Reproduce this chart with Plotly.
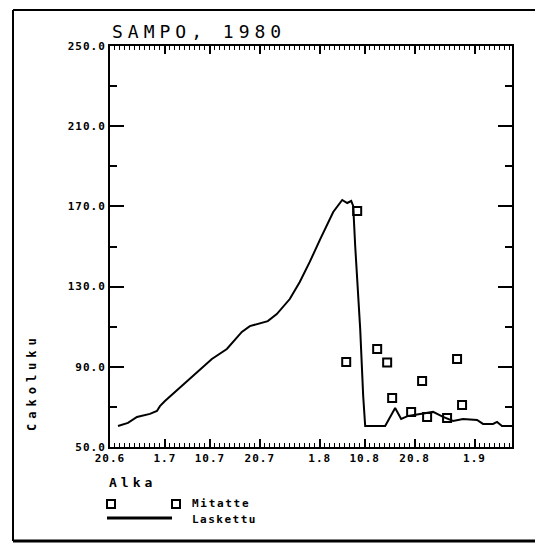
import pandas as pd
import plotly.graph_objects as go

# Day 0 of the time axis
PERUSPAIVA = pd.Timestamp("1980-06-20")

# Laskettu (calculated): days from 20.6.1980 and value
laskettu_pv = [1.6, 3.6, 5.4, 8.0, 9.4, 10.0, 11.0, 13.0, 16.0, 18.0,
               20.4, 23.4, 26.4, 28.0, 30.0, 31.6, 33.4, 36.0, 38.0, 40.0,
               42.1, 44.7, 46.5, 47.5, 48.3, 48.7, 49.1, 50.1, 50.7, 51.1,
               55.1, 57.1, 58.3, 59.7, 62.1, 64.7, 66.7, 68.7, 70.7, 73.5,
               74.7, 76.7, 77.5, 78.5, 80.5]
laskettu = [60.5, 62.0, 65.0, 66.5, 68.0, 70.4, 72.9, 77.4, 83.9, 88.9,
            93.9, 98.9, 107.4, 110.3, 111.8, 112.8, 116.3, 123.8, 132.3, 142.3,
            153.7, 167.2, 173.2, 171.7, 172.7, 170.2, 150.2, 108.9, 75.4, 60.5,
            60.5, 69.5, 64.0, 65.5, 66.5, 67.5, 65.0, 63.0, 64.0, 63.5,
            61.5, 61.5, 62.5, 60.5, 60.5]

# Mitatte (measured): days from 20.6.1980 and value
mitattu_pv = [47.3, 49.5, 53.5, 55.5, 56.5, 60.3, 62.5, 63.5, 67.5, 69.5, 70.5]
mitattu = [92.4, 167.7, 98.9, 92.1, 74.4, 67.5, 82.9, 65.0, 64.5, 93.9, 70.9]

# Time axis labels
tick_paivat = ["1980-06-20", "1980-07-01", "1980-07-10", "1980-07-20",
               "1980-08-01", "1980-08-10", "1980-08-20", "1980-09-01"]
tick_tekstit = ["20.6", "1.7", "10.7", "20.7", "1.8", "10.8", "20.8", "1.9"]

y_tickit = [50, 90, 130, 170, 210, 250]
y_minorit = [70, 110, 150, 190, 230]


def paivat(pv):
    return PERUSPAIVA + pd.to_timedelta(pv, unit="D")


W, H = 535, 544
L, R, T, B = 110, 23, 46, 97
PW, PH = W - L - R, H - T - B


def px_x(px):
    return (px - L) / PW


def px_y(py):
    return (H - B - py) / PH


MONO = "DejaVu Sans Mono"

fig = go.Figure()
fig.add_trace(go.Scatter(
    x=paivat(laskettu_pv), y=laskettu, mode="lines",
    line=dict(color="black", width=2), name="Laskettu", showlegend=False))
fig.add_trace(go.Scatter(
    x=paivat(mitattu_pv), y=mitattu, mode="markers",
    marker=dict(symbol="square-open", size=8, color="black",
                line=dict(width=2, color="black")),
    name="Mitatte", showlegend=False))

tick_font = dict(family=MONO, size=11, color="black", weight="bold")

fig.update_xaxes(
    type="date",
    range=[PERUSPAIVA, PERUSPAIVA + pd.Timedelta(days=80.5)],
    tickvals=pd.to_datetime(tick_paivat), ticktext=tick_tekstit,
    ticks="inside", ticklen=8, tickwidth=1.5, tickcolor="black",
    minor=dict(dtick=86400000, ticks="inside", ticklen=4, tickwidth=1, tickcolor="black"),
    showline=True, linecolor="black", linewidth=2, mirror="ticks",
    showgrid=False, zeroline=False, tickfont=tick_font,
)
fig.update_yaxes(
    range=[50, 250], tickvals=y_tickit, tickformat=".1f",
    ticks="inside", ticklen=14, tickwidth=2, tickcolor="black",
    minor=dict(tickvals=y_minorit, ticks="inside", ticklen=7, tickwidth=2, tickcolor="black"),
    showline=True, linecolor="black", linewidth=2, mirror="ticks",
    showgrid=False, zeroline=False, tickfont=tick_font,
)

annotations = [
    dict(text="SAMPO, 1980", x=0, y=px_y(32), xanchor="left", yanchor="middle", align="left",
         font=dict(family=MONO, size=18, color="black")),
    dict(text="Alka", x=px_x(107), y=px_y(482), xanchor="left", yanchor="middle", align="left",
         font=dict(family=MONO, size=13, color="black", weight="bold")),
    dict(text="Cakoluku", x=px_x(32), y=px_y(382), xanchor="center", yanchor="middle",
         textangle=-90, font=dict(family=MONO, size=12, color="black", weight="bold")),
    dict(text="Mitatte", x=px_x(190), y=px_y(504), xanchor="left", yanchor="middle", align="left",
         font=dict(family=MONO, size=11, color="black", weight="bold")),
    dict(text="Laskettu", x=px_x(190), y=px_y(519), xanchor="left", yanchor="middle", align="left",
         font=dict(family=MONO, size=11, color="black", weight="bold")),
]
for a in annotations:
    a.update(xref="paper", yref="paper", showarrow=False)

shapes = []
# legend symbols
for cx in (111, 176):
    shapes.append(dict(type="rect", xref="paper", yref="paper",
                       x0=px_x(cx - 4), x1=px_x(cx + 4), y0=px_y(508), y1=px_y(500),
                       line=dict(color="black", width=2)))
shapes.append(dict(type="line", xref="paper", yref="paper",
                   x0=px_x(107), x1=px_x(172), y0=px_y(518), y1=px_y(518),
                   line=dict(color="black", width=3)))
# outer frame
shapes.append(dict(type="line", xref="paper", yref="paper",
                   x0=px_x(13), x1=px_x(13), y0=px_y(10), y1=px_y(541),
                   line=dict(color="black", width=2)))
shapes.append(dict(type="line", xref="paper", yref="paper",
                   x0=px_x(13), x1=px_x(535), y0=px_y(10), y1=px_y(10),
                   line=dict(color="black", width=2)))
shapes.append(dict(type="line", xref="paper", yref="paper",
                   x0=px_x(13), x1=px_x(535), y0=px_y(541), y1=px_y(541),
                   line=dict(color="black", width=3)))

fig.update_layout(
    width=W, height=H, autosize=False,
    margin=dict(l=L, r=R, t=T, b=B),
    paper_bgcolor="white", plot_bgcolor="white",
    showlegend=False, annotations=annotations, shapes=shapes,
)

# wide letter spacing of the plotter lettering
spacing_js = """
var spacing = {"SAMPO, 1980": 5, "Alka": 4, "Cakoluku": 5, "Mitatte": 1.7, "Laskettu": 1.5};
document.querySelectorAll('text').forEach(function(t){
  var s = t.textContent;
  if (spacing.hasOwnProperty(s)) { t.style.letterSpacing = spacing[s] + 'px'; }
  else if (t.closest('.xtick, .ytick')) { t.style.letterSpacing = '1px'; }
});
"""

fig.write_html("out.html", post_script=spacing_js)
